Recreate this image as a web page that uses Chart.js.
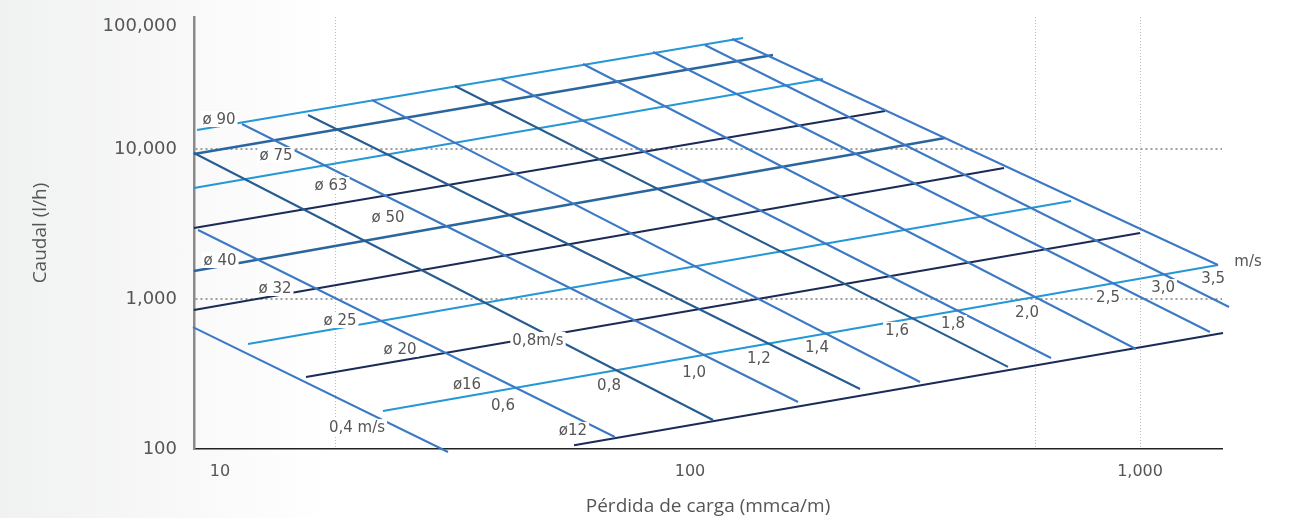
<!DOCTYPE html>
<html lang="es">

<head>
  <meta charset="UTF-8" />
  <title>Caudal / Pérdida de carga</title>
  <script src="https://cdn.jsdelivr.net/npm/chart.js"></script>
  <style>
    html, body { margin: 0; padding: 0; }
    body {
      width: 1294px; height: 518px; overflow: hidden;
      background: linear-gradient(to right, #f0f1f1 0px, #f7f7f7 150px, #ffffff 330px);
    }
    canvas { display: block; }
  </style>
</head>

<body>
  <canvas id="abaco" width="1294" height="518"></canvas>

  <script>
    // Diámetros (líneas que suben): punto inicial y final (pérdida mmca/m, caudal l/h)
    const diaNames = ['ø 90', 'ø 75', 'ø 63', 'ø 50', 'ø 40', 'ø 32', 'ø 25', 'ø 20', 'ø16', 'ø12'];
    const diaX0 = [8.03, 7.90, 7.90, 7.90, 7.90, 7.90, 10.42, 14.02, 20.78, 55.25];
    const diaY0 = [13390, 9261, 5495, 2973, 1537, 845, 501, 302, 179, 106];
    const diaX1 = [131.2, 152.9, 197.5, 271.3, 368.6, 498.6, 702.6, 1000, 1490, 1529];
    const diaY1 = [54950, 42330, 29290, 17920, 11840, 7470, 4501, 2754, 1685, 593];

    // Velocidades (líneas que bajan), m/s
    const velNames = ['0,4', '0,6', '0,8', '1,0', '1,2', '1,4', '1,6', '1,8', '2,0', '2,5', '3,0', '3,5'];
    const velX0 = [7.86, 8.07, 7.90, 10.10, 14.16, 19.65, 30.05, 38.02, 57.84, 82.76, 107.9, 124];
    const velY0 = [650, 2884, 9404, 14680, 16850, 21210, 26300, 29290, 36870, 44330, 49350, 54120];
    const velX1 = [28.99, 68.1, 112.5, 173.8, 238.7, 324.4, 508.9, 634.2, 979.7, 1430, 1577, 1490];
    const velY1 = [95.5, 120.2, 156.1, 205.7, 251.2, 279.7, 352.2, 404.3, 464.2, 602.6, 884.6, 1685];

    // Rótulos sobre el ábaco
    const noteText = ['ø 90', 'ø 75', 'ø 63', 'ø 50', 'ø 40', 'ø 32', 'ø 25', 'ø 20', 'ø16', 'ø12',
      '0,4 m/s', '0,6', '0,8m/s', '0,8', '1,0', '1,2', '1,4', '1,6', '1,8', '2,0', '2,5', '3,0', '3,5', 'm/s'];
    const noteX = [8.98, 12.02, 15.93, 21.33, 9.03, 11.96, 16.68, 22.68, 31.95, 54.95,
      18.2, 38.41, 45.94, 66.07, 102.1, 142.3, 191.5, 288.4, 384.1, 560.9, 849.0, 1125, 1453, 1738];
    const noteY = [15850, 9120, 5754, 3522, 1820, 1184, 724, 464, 271, 134,
      140, 196.5, 533, 267, 326, 404, 479, 622, 692, 819, 1031, 1202, 1380, 1792];

    // Ejes (las etiquetas del original no caen en escala log exacta)
    const xTickValues = [9.03, 100, 1000];
    const xTickLabels = ['10', '100', '1,000'];
    const xGridValues = [16.34, 584.6, 1000];
    const yTickValues = [100, 1000, 10000, 66070];
    const yTickLabels = ['100', '1,000', '10,000', '100,000'];
    const yGridValues = [1000, 10000];

    // estilos
    const diaShade = ['light', 'steel', 'light', 'navy', 'steel', 'navy', 'light', 'navy', 'light', 'navy'];
    const velShade = ['mid', 'mid', 'dark', 'mid', 'dark', 'mid', 'dark', 'mid', 'mid', 'mid', 'mid', 'mid'];
    const palette = { light: '#2497d6', steel: '#2a669d', navy: '#1b2a56', mid: '#3c79c4', dark: '#265c8f' };
    const widths = { light: 2, steel: 2.6, navy: 2, mid: 2, dark: 2 };

    const datasets = [];
    velNames.forEach((name, i) => {
      datasets.push({
        label: name + ' m/s',
        data: [{ x: velX0[i], y: velY0[i] }, { x: velX1[i], y: velY1[i] }],
        borderColor: palette[velShade[i]],
        borderWidth: widths[velShade[i]],
        showLine: true, pointRadius: 0, clip: false
      });
    });
    diaNames.forEach((name, i) => {
      datasets.push({
        label: name,
        data: [{ x: diaX0[i], y: diaY0[i] }, { x: diaX1[i], y: diaY1[i] }],
        borderColor: palette[diaShade[i]],
        borderWidth: widths[diaShade[i]],
        showLine: true, pointRadius: 0, clip: false
      });
    });

    // rótulos con fondo blanco (cortan las líneas como en el original)
    const notesPlugin = {
      id: 'notes',
      afterDatasetsDraw(chart) {
        const { ctx, scales: { x, y } } = chart;
        ctx.save();
        ctx.font = '15px "DejaVu Sans"';
        ctx.textAlign = 'center';
        ctx.textBaseline = 'middle';
        noteText.forEach((t, i) => {
          const px = x.getPixelForValue(noteX[i]);
          const py = y.getPixelForValue(noteY[i]);
          const w = ctx.measureText(t).width;
          ctx.fillStyle = '#ffffff';
          ctx.fillRect(px - w / 2 - 2, py - 8, w + 4, 16);
          ctx.fillStyle = '#555555';
          ctx.fillText(t, px, py + 1);
        });
        ctx.restore();
      }
    };

    const allX = [...new Set([...xTickValues, ...xGridValues])].sort((a, b) => a - b);
    const allY = [...new Set([...yTickValues, ...yGridValues])].sort((a, b) => a - b);

    new Chart(document.getElementById('abaco'), {
      type: 'scatter',
      data: { datasets },
      plugins: [notesPlugin],
      options: {
        responsive: false,
        animation: false,
        layout: { padding: { top: 17, right: 72, left: 0, bottom: 0 } },
        plugins: { legend: { display: false }, tooltip: { enabled: false } },
        scales: {
          x: {
            type: 'logarithmic',
            min: 7.903, max: 1521,
            afterBuildTicks: (scale) => { scale.ticks = allX.map(v => ({ value: v })); },
            afterFit: (scale) => {
              scale.height = 69;
              scale.paddingLeft = 0; scale.paddingRight = 0;
            },
            ticks: {
              autoSkip: false, maxRotation: 0, padding: 13,
              color: '#555', font: { family: 'DejaVu Sans', size: 16 },
              callback: (v) => { const i = xTickValues.indexOf(v); return i >= 0 ? xTickLabels[i] : ''; }
            },
            grid: {
              drawTicks: false,
              lineWidth: 1,
              color: (c) => (c.tick && xGridValues.includes(c.tick.value)) ? '#bdbdbd' : 'rgba(0,0,0,0)'
            },
            border: { color: '#222', width: 1.5, dash: [1, 2] },
            title: {
              display: true, text: 'Pérdida de carga (mmca/m)', color: '#555',
              font: { family: 'Open Sans', size: 19 }, padding: { top: 0, bottom: 0 }
            }
          },
          y: {
            type: 'logarithmic',
            min: 100, max: 75858,
            afterBuildTicks: (scale) => { scale.ticks = allY.map(v => ({ value: v })); },
            afterFit: (scale) => {
              scale.width = 194;
              scale.paddingTop = 0; scale.paddingBottom = 0;
            },
            ticks: {
              autoSkip: false, padding: 17,
              color: '#555', font: { family: 'DejaVu Sans', size: 18 },
              callback: (v) => { const i = yTickValues.indexOf(v); return i >= 0 ? yTickLabels[i] : ''; }
            },
            grid: {
              drawTicks: false,
              lineWidth: 2,
              color: (c) => (c.tick && yGridValues.includes(c.tick.value)) ? '#9e9e9e' : 'rgba(0,0,0,0)'
            },
            border: { color: '#8a8a8a', width: 2.5, dash: [2, 3] },
            title: {
              display: true, text: 'Caudal (l/h)', color: '#555',
              font: { family: 'Open Sans', size: 19 }, padding: { top: 29, bottom: 0 }
            }
          }
        }
      }
    });
  </script>
</body>

</html>
